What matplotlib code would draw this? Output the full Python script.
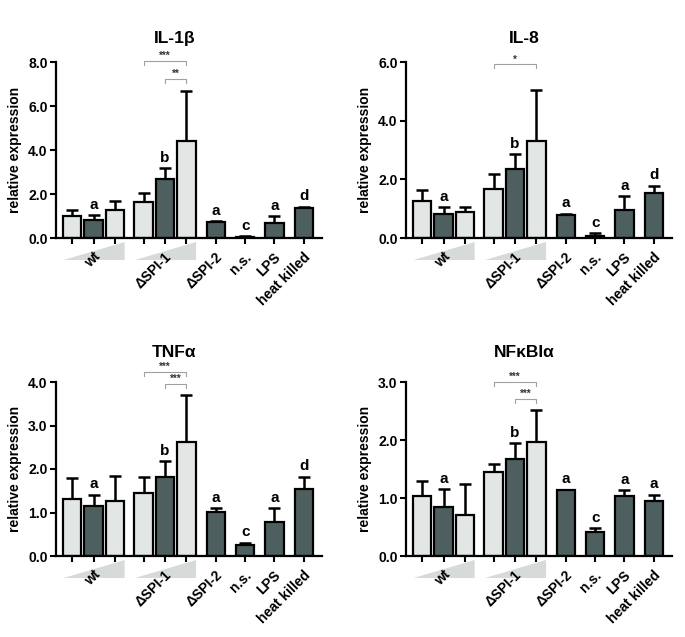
import matplotlib
matplotlib.use("Agg")
import matplotlib.pyplot as plt
from matplotlib.patches import Polygon

plt.rcParams['font.family'] = ['Liberation Sans', 'DejaVu Sans']
plt.rcParams['font.weight'] = 'bold'

# bar layout: wt x3, dSPI-1 x3, then single conditions
xpos = [0, 1, 2, 3.33, 4.33, 5.33, 6.7, 8.07, 9.43, 10.8]
dark = [False, True, False, False, True, False, True, True, True, True]
group_labels = ['wt', '\u0394SPI-1', '\u0394SPI-2', 'n.s.', 'LPS', 'heat killed']
label_bar = [1, 4, 6, 7, 8, 9]

titles = ['IL-1\u03b2', 'IL-8', 'TNF\u03b1', 'NF\u03baBI\u03b1']
ymax = [8.0, 6.0, 4.0, 3.0]
ystep = [2.0, 2.0, 1.0, 1.0]

# means and upper error (SEM)
il1b_mean = [0.98, 0.83, 1.27, 1.64, 2.67, 4.39, 0.71, 0.06, 0.68, 1.35]
il1b_err = [0.31, 0.20, 0.43, 0.42, 0.51, 2.29, 0.06, 0.01, 0.30, 0.07]
il8_mean = [1.26, 0.81, 0.87, 1.66, 2.34, 3.29, 0.78, 0.07, 0.97, 1.55]
il8_err = [0.39, 0.23, 0.20, 0.52, 0.52, 1.76, 0.04, 0.09, 0.46, 0.23]
tnfa_mean = [1.31, 1.16, 1.27, 1.45, 1.81, 2.61, 1.02, 0.25, 0.78, 1.54]
tnfa_err = [0.49, 0.25, 0.57, 0.37, 0.37, 1.10, 0.08, 0.06, 0.32, 0.28]
nfkb_mean = [1.04, 0.85, 0.71, 1.44, 1.68, 1.96, 1.13, 0.42, 1.04, 0.94]
nfkb_err = [0.25, 0.30, 0.53, 0.15, 0.26, 0.55, 0.01, 0.06, 0.09, 0.12]

letters_std = ['', 'a', '', '', 'b', '', 'a', 'c', 'a', 'd']
letters_nfkb = ['', 'a', '', '', 'b', '', 'a', 'c', 'a', 'a']

# (bar i, bar j, y, stars)
brackets_il1b = [(3, 5, 8.05, '***'), (4, 5, 7.25, '**')]
brackets_il8 = [(3, 5, 5.92, '*')]
brackets_tnfa = [(3, 5, 4.23, '***'), (4, 5, 3.96, '***')]
brackets_nfkb = [(3, 5, 3.0, '***'), (4, 5, 2.71, '***')]

means = [il1b_mean, il8_mean, tnfa_mean, nfkb_mean]
errs = [il1b_err, il8_err, tnfa_err, nfkb_err]
letters = [letters_std, letters_std, letters_std, letters_nfkb]
brackets = [brackets_il1b, brackets_il8, brackets_tnfa, brackets_nfkb]

LIGHT = '#e2e6e5'
DARK = '#4e5f5f'
TRI = '#d6dbd9'

fig = plt.figure(figsize=(6.85, 6.37), dpi=100)
W, H = 685.0, 637.0
boxes = [(56, 62, 238), (406, 62, 238), (56, 382, 556), (406, 382, 556)]
ax_w = 266

for k in range(4):
    left, top, bot = boxes[k]
    ax = fig.add_axes([left / W, 1 - bot / H, ax_w / W, (bot - top) / H])
    m, e = means[k], errs[k]
    colors = [DARK if d else LIGHT for d in dark]
    ax.errorbar(xpos, m, yerr=[[0] * len(m), e], fmt='none', ecolor='black',
                elinewidth=1.8, capsize=4, capthick=1.8, zorder=1)
    ax.bar(xpos, m, width=0.86, color=colors, edgecolor='black', linewidth=1.6, zorder=2)

    for i, t in enumerate(letters[k]):
        if t:
            ax.annotate(t, xy=(xpos[i], m[i] + e[i]), xytext=(0, 2.5), textcoords='offset points',
                        ha='center', va='bottom', fontsize=11, fontweight='bold')

    hgt = bot - top
    drop = (ymax[k] / hgt) * 4
    for i, j, y, s in brackets[k]:
        ax.plot([xpos[i], xpos[i], xpos[j], xpos[j]], [y - drop, y, y, y - drop],
                color='#a0a0a0', lw=0.8, clip_on=False, zorder=3)
        ax.text((xpos[i] + xpos[j]) / 2, y, s, ha='center', va='bottom', fontsize=7,
                color='#333333', fontweight='bold')

    # ramp triangles under wt and dSPI-1
    tr = ax.get_xaxis_transform()
    yt, yb = -4.0 / hgt, -22.0 / hgt
    for a, b in [(0, 2), (3, 5)]:
        tri = Polygon([(xpos[a] - 0.4, yb), (xpos[b] + 0.45, yt), (xpos[b] + 0.45, yb)],
                      closed=True, transform=tr, facecolor=TRI, edgecolor='none', clip_on=False)
        ax.add_patch(tri)

    for lab, i in zip(group_labels, label_bar):
        ax.annotate(lab, xy=(xpos[i], 0), xycoords=tr, xytext=(6.5, -8.5), textcoords='offset points',
                    rotation=45, ha='right', va='top', fontsize=10, fontweight='bold')

    ax.set_xlim(-0.75, 11.65)
    ax.set_ylim(0, ymax[k])
    n = int(round(ymax[k] / ystep[k]))
    ticks = [ystep[k] * t for t in range(n + 1)]
    ax.set_yticks(ticks)
    ax.set_yticklabels(['%.1f' % t for t in ticks], fontsize=10, fontweight='bold')
    ax.set_xticks(xpos)
    ax.set_xticklabels([])
    ax.tick_params(axis='both', direction='out', length=4, width=1.5, pad=2)
    for sp in ['top', 'right']:
        ax.spines[sp].set_visible(False)
    for sp in ['left', 'bottom']:
        ax.spines[sp].set_linewidth(1.6)
    ax.set_ylabel('relative expression', fontsize=10, fontweight='bold')
    ax.yaxis.set_label_coords(-0.128, 0.5)
    ax.set_title(titles[k], fontsize=12.5, fontweight='bold', x=0.445,
                 pad=14 if k < 2 else 18)

fig.savefig('out.png', dpi=100)
